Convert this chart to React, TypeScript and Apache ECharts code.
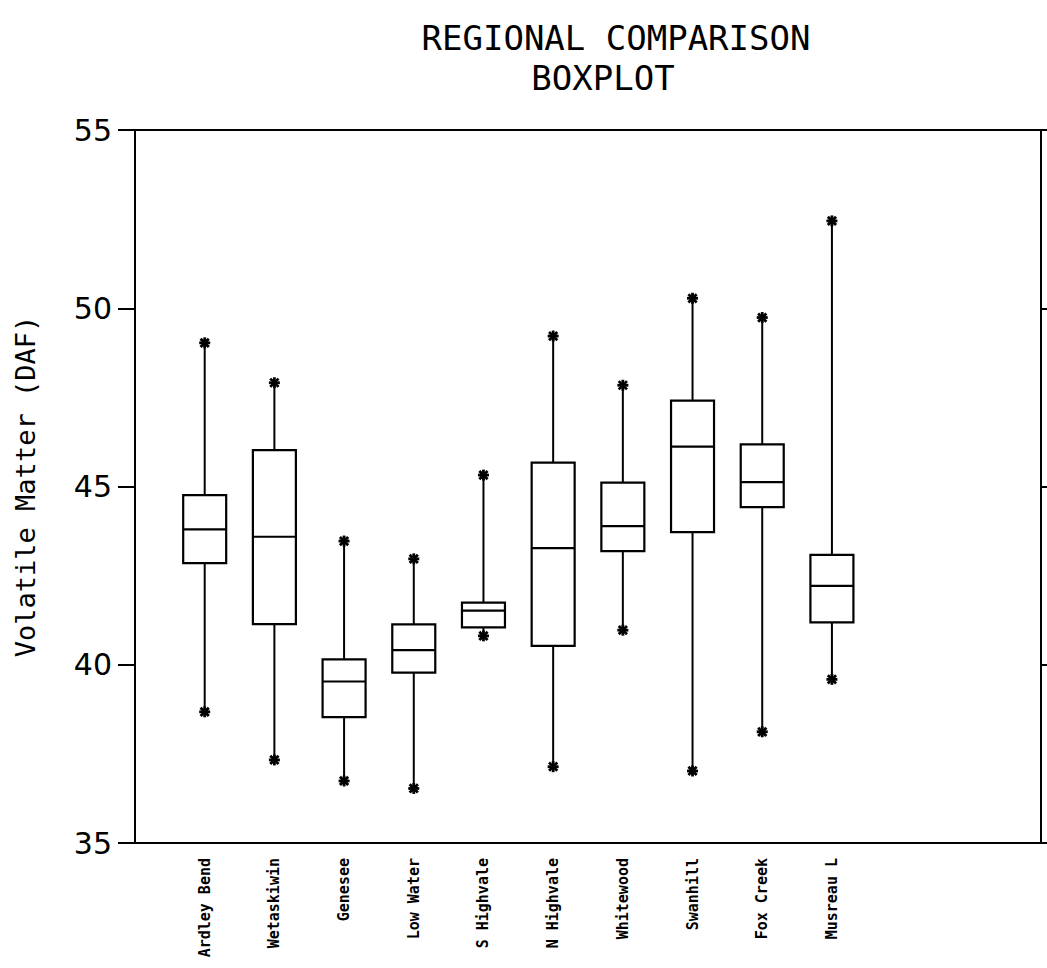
import React, { useEffect, useRef } from "react";
import * as echarts from "echarts";

const categories = [
  "Ardley Bend",
  "Wetaskiwin",
  "Genesee",
  "Low Water",
  "S Highvale",
  "N Highvale",
  "Whitewood",
  "Swanhill",
  "Fox Creek",
  "Musreau L",
];
const whiskerLow = [38.68, 37.33, 36.74, 36.53, 40.81, 37.14, 40.97, 37.02, 38.12, 39.59];
const q1 = [42.85, 41.14, 38.53, 39.78, 41.05, 40.53, 43.19, 43.72, 44.42, 41.19];
const median = [43.8, 43.59, 39.53, 40.41, 41.52, 43.27, 43.89, 46.12, 45.12, 42.21];
const q3 = [44.76, 46.02, 40.15, 41.13, 41.74, 45.67, 45.11, 47.41, 46.18, 43.08];
const whiskerHigh = [49.03, 47.91, 43.47, 42.97, 45.32, 49.22, 47.84, 50.28, 49.74, 52.45];
const yMin = 35;
const yMax = 55;
const yStep = 5;

const titleLine1 = "REGIONAL COMPARISON";
const titleLine2 = "BOXPLOT";
const yName = "Volatile Matter (DAF)";

export default function App() {
  const ref = useRef<HTMLDivElement>(null);

  useEffect(() => {
    if (!ref.current) return;
    const chart = echarts.init(ref.current, undefined, { renderer: "svg" });

    const slots = ["", ...categories, "", "", ""];
    const data = categories.map((_, i) => [
      i + 1,
      whiskerLow[i],
      q1[i],
      median[i],
      q3[i],
      whiskerHigh[i],
    ]);

    const lineStyle = { stroke: "#000", lineWidth: 2 };
    const star = (cx: number, cy: number) => {
      const r = 5.5;
      const d = r * 0.75;
      const segs = [
        [cx - r, cy, cx + r, cy],
        [cx, cy - r, cx, cy + r],
        [cx - d, cy - d, cx + d, cy + d],
        [cx - d, cy + d, cx + d, cy - d],
      ];
      return segs.map((s) => ({
        type: "line",
        shape: { x1: s[0], y1: s[1], x2: s[2], y2: s[3] },
        style: { stroke: "#000", lineWidth: 2.8 },
      }));
    };

    const renderItem = (params: any, api: any) => {
      const x = api.value(0);
      const pLow = api.coord([x, api.value(1)]);
      const pQ1 = api.coord([x, api.value(2)]);
      const pMed = api.coord([x, api.value(3)]);
      const pQ3 = api.coord([x, api.value(4)]);
      const pHigh = api.coord([x, api.value(5)]);
      const half = 21.5;
      const cx = pMed[0];
      return {
        type: "group",
        children: [
          {
            type: "line",
            shape: { x1: cx, y1: pQ1[1], x2: cx, y2: pLow[1] },
            style: lineStyle,
          },
          {
            type: "line",
            shape: { x1: cx, y1: pQ3[1], x2: cx, y2: pHigh[1] },
            style: lineStyle,
          },
          {
            type: "rect",
            shape: { x: cx - half, y: pQ3[1], width: half * 2, height: pQ1[1] - pQ3[1] },
            style: { fill: "#fff", stroke: "#000", lineWidth: 2.2 },
          },
          {
            type: "line",
            shape: { x1: cx - half, y1: pMed[1], x2: cx + half, y2: pMed[1] },
            style: { stroke: "#000", lineWidth: 2.2 },
          },
          ...star(cx, pLow[1]),
          ...star(cx, pHigh[1]),
        ],
      };
    };

    chart.setOption({
      animation: false,
      backgroundColor: "#fff",
      graphic: [
        {
          type: "text",
          x: 616,
          y: 38,
          style: {
            text: titleLine1,
            font: "34px 'DejaVu Sans Mono'",
            fill: "#000",
            textAlign: "center",
            textVerticalAlign: "middle",
          },
        },
        {
          type: "text",
          x: 603,
          y: 78,
          style: {
            text: titleLine2,
            font: "34px 'DejaVu Sans Mono'",
            fill: "#000",
            textAlign: "center",
            textVerticalAlign: "middle",
          },
        },
      ],
      grid: {
        left: 135,
        right: 6,
        top: 130,
        bottom: 125,
        show: true,
        borderColor: "#000",
        borderWidth: 2,
        backgroundColor: "transparent",
      },
      xAxis: {
        type: "category",
        data: slots,
        boundaryGap: false,
        axisLine: { show: true, lineStyle: { color: "#000", width: 2 } },
        axisTick: { show: false },
        splitLine: { show: false },
        axisLabel: {
          interval: 0,
          rotate: 90,
          margin: 15,
          color: "#000",
          fontFamily: "'DejaVu Sans Mono'",
          fontWeight: "bold",
          fontSize: 15,
        },
      },
      yAxis: [
        {
          type: "value",
          min: yMin,
          max: yMax,
          interval: yStep,
          name: yName,
          nameLocation: "middle",
          nameRotate: 90,
          nameGap: 96,
          nameTextStyle: {
            color: "#000",
            fontFamily: "'DejaVu Sans Mono'",
            fontSize: 27,
          },
          axisLine: { show: true, lineStyle: { color: "#000", width: 2 } },
          axisTick: { show: true, length: 17, lineStyle: { color: "#000", width: 2 } },
          splitLine: { show: false },
          axisLabel: {
            margin: 23,
            color: "#000",
            fontFamily: "'DejaVu Sans'",
            fontSize: 30,
          },
        },
        {
          type: "value",
          position: "right",
          min: yMin,
          max: yMax,
          interval: yStep,
          axisLine: { show: true, lineStyle: { color: "#000", width: 2 } },
          axisTick: { show: true, length: 6, lineStyle: { color: "#000", width: 2 } },
          splitLine: { show: false },
          axisLabel: { show: false },
        },
      ],
      series: [
        {
          type: "custom",
          renderItem,
          data,
          encode: { x: 0, y: [1, 2, 3, 4, 5] },
          clip: false,
        },
      ],
    });

    return () => chart.dispose();
  }, []);

  return (
    <div
      ref={ref}
      style={{ position: "fixed", left: 0, top: 0, width: 1047, height: 968, background: "#fff" }}
    />
  );
}
